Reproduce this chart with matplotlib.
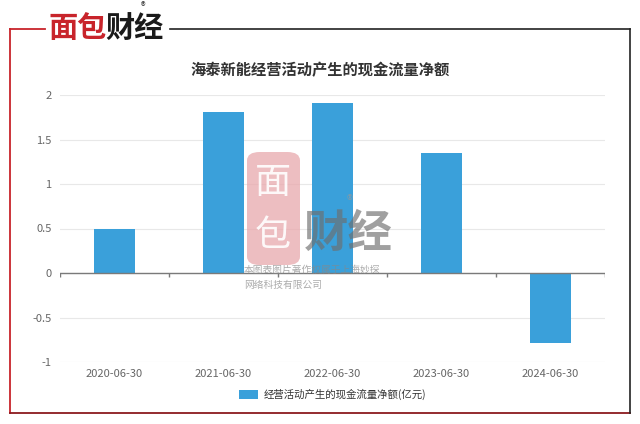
import matplotlib
matplotlib.use('Agg')
import matplotlib.pyplot as plt
from matplotlib.lines import Line2D
from matplotlib.patches import FancyBboxPatch

plt.rcParams['font.family'] = ['Noto Sans CJK SC', 'DejaVu Sans']
plt.rcParams['axes.unicode_minus'] = False

categories = ['2020-06-30', '2021-06-30', '2022-06-30', '2023-06-30', '2024-06-30']
values = [0.49, 1.81, 1.91, 1.35, -0.79]
yticks = [-1, -0.5, 0, 0.5, 1, 1.5, 2]
ytick_labels = ['-1', '-0.5', '0', '0.5', '1', '1.5', '2']
title = '海泰新能经营活动产生的现金流量净额'
series_name = '经营活动产生的现金流量净额(亿元)'

BLUE = '#3AA0DA'
RED = '#C8242B'
DARK = '#333333'
GRAY = '#666666'
GRID = '#E8E8E8'

fig = plt.figure(figsize=(6.4, 4.24), dpi=100)
fig.patch.set_facecolor('white')

# 外框
W, H = 640, 424
def fx(px): return px / W
def fy(py): return 1 - py / H
fig.add_artist(Line2D([fx(10), fx(10)], [fy(29), fy(413)], color=RED, lw=1.3))
fig.add_artist(Line2D([fx(10), fx(630)], [fy(413), fy(413)], color='#8B1A1F', lw=1.3))
fig.add_artist(Line2D([fx(10), fx(45)], [fy(29), fy(29)], color=RED, lw=1.3))
fig.add_artist(Line2D([fx(170), fx(630)], [fy(29), fy(29)], color='#222222', lw=1.2))
fig.add_artist(Line2D([fx(630), fx(630)], [fy(29), fy(413)], color='#222222', lw=1.2))

# logo
fig.text(fx(48), fy(28), '面包', fontsize=21, fontweight='bold', color=RED, va='center', ha='left')
fig.text(fx(105), fy(28), '财经', fontsize=21, fontweight='bold', color='#1A1A1A', va='center', ha='left')
fig.text(fx(143), fy(7), '®', fontsize=7, color='#333333', va='center', ha='center')

# 标题
fig.text(0.5, fy(70), title, fontsize=11, fontweight='bold', color=DARK, ha='center', va='center')

ax = fig.add_axes([fx(60), fy(362), fx(605) - fx(60), fy(95) - fy(362)])
x = list(range(len(categories)))
ax.bar(x, values, width=0.38, color=BLUE, zorder=3, label=series_name)
ax.set_xlim(-0.5, len(categories) - 0.5)
ax.set_ylim(-1, 2)
ax.set_yticks(yticks)
ax.set_yticklabels(ytick_labels)
ax.set_xticks(x)
ax.set_xticklabels(categories)
ax.tick_params(axis='both', length=0, labelsize=8, colors=GRAY)
ax.tick_params(axis='x', pad=5)
ax.tick_params(axis='y', pad=6)
for sp in ax.spines.values():
    sp.set_visible(False)
ax.yaxis.grid(True, color=GRID, lw=0.8, zorder=0)
ax.set_axisbelow(True)
ax.axhline(0, color='#7A7A7A', lw=1, zorder=4)
ax.vlines([i - 0.5 for i in range(len(categories) + 1)], -0.05, 0, color='#7A7A7A', lw=1, zorder=4)

leg = ax.legend(loc='upper center', bbox_to_anchor=(0.5, -0.065), frameon=False,
                fontsize=7.5, handlelength=1.9, handleheight=1.0, handletextpad=0.5)
for t in leg.get_texts():
    t.set_color(DARK)

# 水印
wm = FancyBboxPatch((fx(247), fy(265)), fx(300) - fx(247), fy(152) - fy(265),
                    boxstyle='round,pad=0,rounding_size=0.02', transform=fig.transFigure,
                    facecolor='#E8A8AC', edgecolor='none', alpha=0.75, zorder=10)
fig.add_artist(wm)
fig.text(fx(273), fy(183), '面', fontsize=26, color='white', ha='center', va='center', alpha=0.9, zorder=11)
fig.text(fx(273), fy(236), '包', fontsize=26, color='white', ha='center', va='center', alpha=0.9, zorder=11)
fig.text(fx(348), fy(234), '财经', fontsize=32, fontweight='bold', color='#6E6E6E', ha='center', va='center',
         alpha=0.65, zorder=11)
fig.text(fx(350), fy(201), '®', fontsize=9, color='#999999', ha='center', va='center', alpha=0.7, zorder=11)
fig.text(fx(244), fy(270), '本图表图片著作权属于上海妙探', fontsize=7, color='#888888', ha='left',
         va='center', alpha=0.7, zorder=11)
fig.text(fx(244), fy(285), '网络科技有限公司', fontsize=7, color='#888888', ha='left',
         va='center', alpha=0.7, zorder=11)

fig.savefig('out.png', dpi=100, facecolor='white')
